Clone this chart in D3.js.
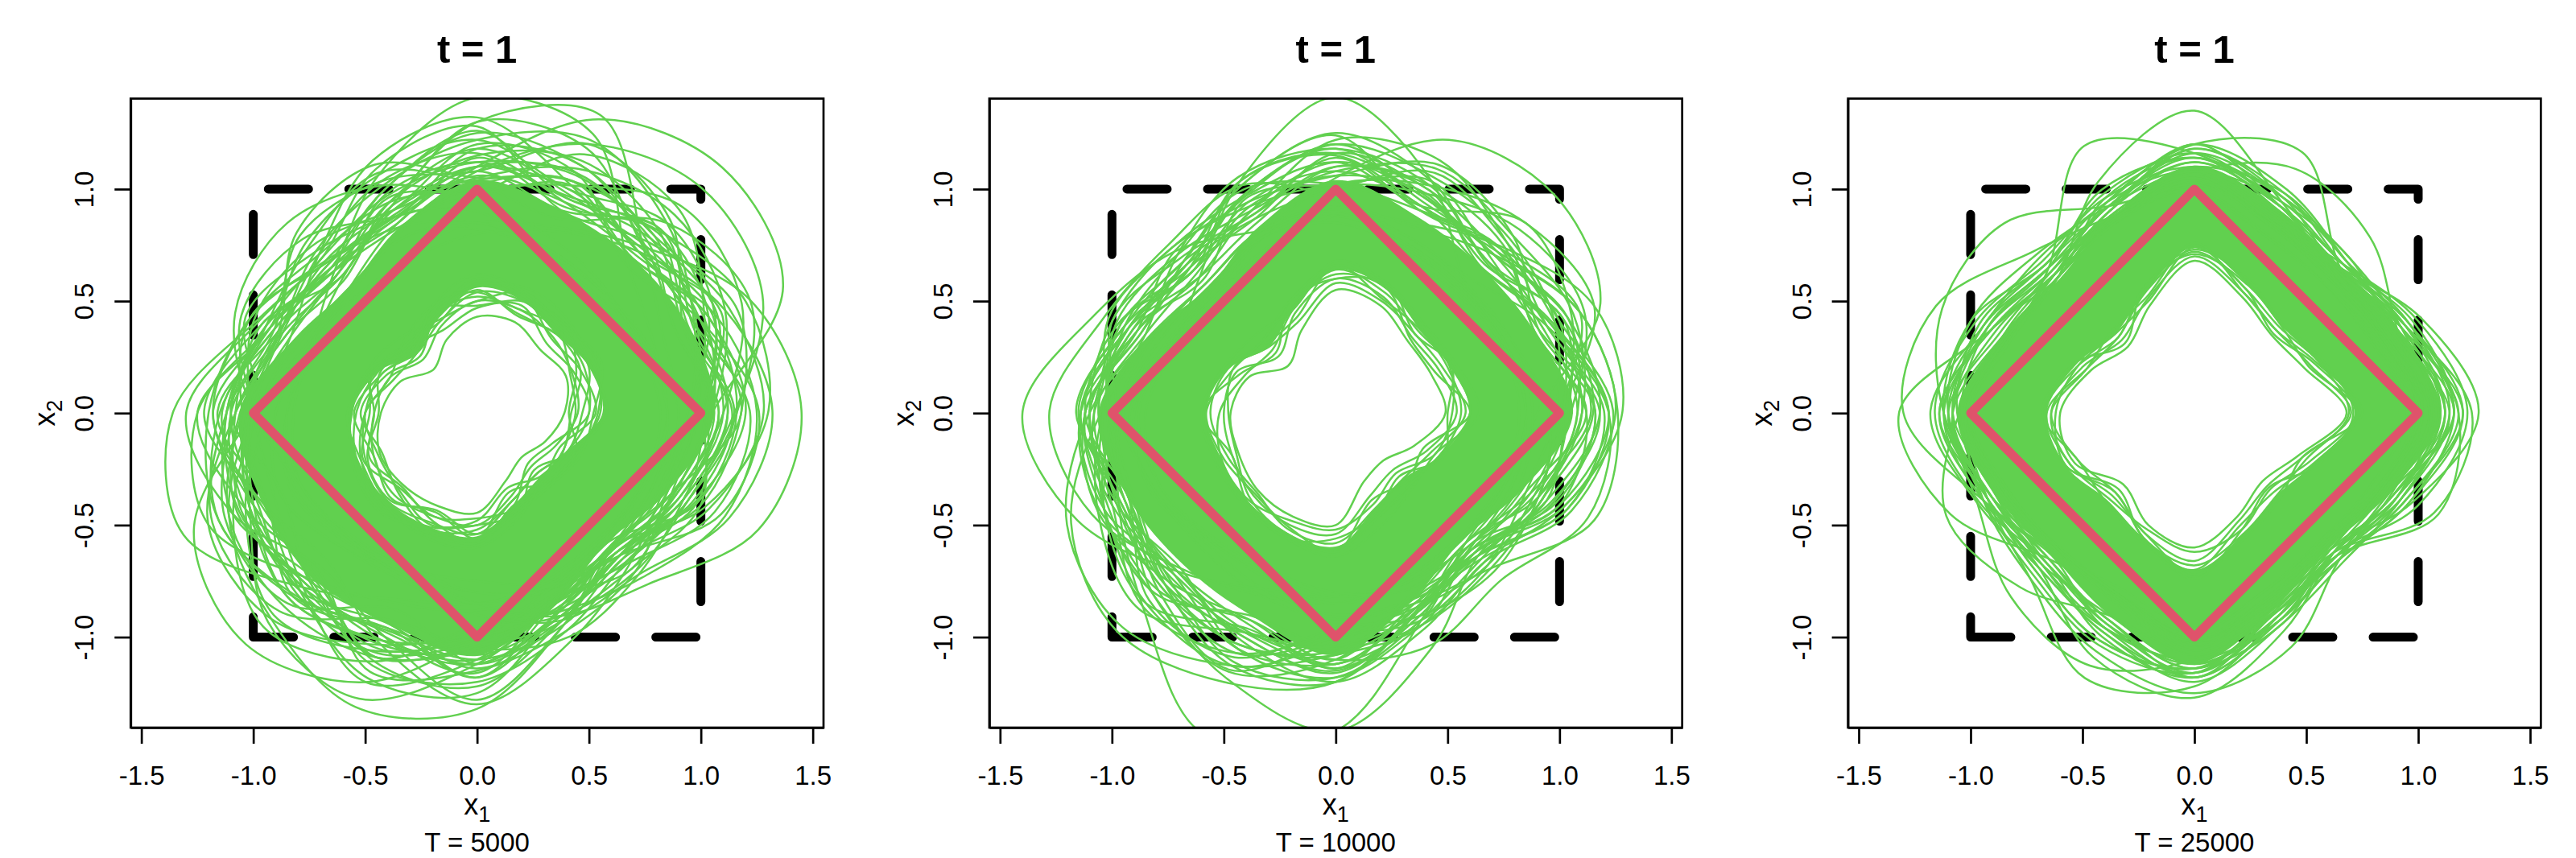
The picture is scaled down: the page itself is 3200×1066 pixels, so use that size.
<!DOCTYPE html>
<html>
<head>
<meta charset="utf-8">
<script src="https://cdn.jsdelivr.net/npm/d3@7"></script>
<style>
  html, body { margin: 0; padding: 0; background: #fff; }
  text { font-family: "Liberation Sans", Arial, sans-serif; fill: #000; }
</style>
</head>
<body>
<script>
/* Tick labels and reference shapes */

const xTicks = [-1.5, -1, -0.5, 0, 0.5, 1, 1.5];
const yTicks = [-1, -0.5, 0, 0.5, 1];
const squareX = [-1, 1, 1, -1, -1];
const squareY = [-1, -1, 1, 1, -1];
const diamondX = [1, 0, -1, 0, 1];
const diamondY = [0, 1, 0, -1, 0];
const horizons = ["T = 5000", "T = 10000", "T = 25000"];

const denseOuter5000 = [1.06, 1.02, .98, .98, 1.04, .9, .8, .88, 1.06, 1.04, 1.04, 1.02, 1.08, .92, .82, .92];
const denseInner5000 = [.56, .54, .5, .54, .56, .46, .38, .48, .56, .57, .56, .55, .55, .44, .4, .44];
const curves5000 = [
  [1.05,1.48,1.55,1.42,1.10,.92,.80,.78,.85,.90,.82,.78,.80,.85,.88,.95],
  [1.15,1.38,1.42,1.30,1.08,.88,.78,.8,.9,.95,.85,.76,.75,.82,.9,1.0],
  [1.45,1.32,1.05,.9,.85,.78,.72,.75,.85,.88,.8,.76,.85,.98,1.08,1.36],
  [1.32,1.2,1.02,.88,.8,.75,.75,.8,.9,.95,.85,.82,.9,1.0,1.02,1.22],
  [.85,.8,.78,.8,.85,.9,.95,1.07,1.36,1.42,1.1,.9,.85,.82,.8,.8],
  [.9,.82,.75,.78,.9,.95,.92,1.0,1.25,1.3,1.05,.92,.88,.85,.82,.85],
  [.82,.78,.8,.85,.95,1.1,1.2,1.17,1.0,.85,.8,.8,.85,.8,.78,.8],
  [.85,.85,.95,1.35,1.41,1.15,.9,.8,.82,.85,.78,.75,.8,.85,.85,.85],
  [.9,.9,1.05,1.44,1.3,1.0,.85,.8,.85,.85,.8,.8,.85,.85,.85,.88],
  [.85,.82,.78,.78,.82,.85,.8,.82,1.0,1.37,1.46,1.3,1.0,.85,.8,.82],
  [.85,.8,.78,.8,.85,.85,.8,.85,1.0,1.2,1.3,1.42,1.32,1.02,.85,.85],
  [.95,1.05,1.2,1.32,1.22,1.1,1.02,.95,1.02,1.1,1.32,1.38,1.12,.92,.86,.9],
  [1.12,1.08,1.1,1.15,1.12,1.05,.98,1.02,1.12,1.15,1.08,1.1,1.12,.98,.9,1.0],
  [1.2,1.12,1.0,1.02,1.16,1.12,1.0,.95,1.05,1.2,1.22,1.18,1.05,.92,.88,1.05],
  [1.05,1.2,1.25,1.18,1.05,.98,1.05,1.08,1.02,1.1,1.18,1.1,1.0,.95,.95,.95],
  [1.28,1.22,1.12,1.2,1.25,1.08,.92,.98,1.15,1.25,1.15,1.05,1.1,1.02,.92,1.12],
  [1.1,1.28,1.3,1.1,1.0,1.02,1.0,1.1,1.18,1.08,1.02,1.2,1.22,1.0,.9,.98],
  [1.22,1.05,1.05,1.28,1.3,1.0,.88,.92,1.08,1.3,1.3,1.12,.98,.9,.95,1.15],
  [1.0,1.15,1.2,1.08,1.22,1.15,1.08,1.0,1.25,1.12,1.0,1.25,1.15,1.05,1.0,.92],
  [1.3,1.3,1.15,1.05,1.1,.95,.95,1.1,1.05,1.02,1.12,1.28,1.25,.95,.85,1.1],
  [1.08,1.0,1.22,1.3,1.08,1.12,1.12,.98,1.12,1.28,1.25,1.0,1.05,1.08,1.02,1.0],
  [1.18,1.25,1.08,.98,1.28,1.18,.98,1.06,1.3,1.18,.98,1.08,1.28,1.02,.88,1.08],
  [.98,1.1,1.28,1.25,.98,.95,1.1,1.14,1.0,.98,1.1,1.3,1.1,.9,.98,.94],
  [1.25,1.15,.98,1.1,1.32,1.22,1.0,.9,.98,1.18,1.35,1.2,.95,.96,1.04,1.2],
  [1.15,1.02,1.15,1.22,1.15,1.02,.9,1.04,1.22,1.05,1.05,1.22,1.2,1.05,.94,1.02],
  [1.02,1.18,1.02,1.12,1.05,1.2,1.14,.96,1.08,1.22,1.2,.95,1.12,1.0,.98,1.08],
  [1.26,1.08,.94,1.16,1.2,.98,1.02,1.12,.96,1.12,1.28,1.15,1.0,.88,.9,1.18],
  [.94,1.12,1.16,1.04,1.26,1.08,.94,1.0,1.18,1.04,.94,1.12,1.3,1.1,.96,.9],
  [1.16,1.32,1.2,.94,1.02,1.16,1.06,1.02,1.1,.94,1.06,1.18,.96,.98,1.0,1.02],
  [1.06,.96,1.06,1.2,1.18,.94,.96,1.1,1.2,1.25,1.16,1.04,1.18,.92,.86,.96],
  [1.1,1.05,1.02,1.08,1.1,.98,.86,.94,1.1,1.12,1.1,1.06,1.12,.96,.86,.98],
  [1.05,1.1,1.06,1.02,1.06,.94,.9,.98,1.14,1.08,1.12,1.12,1.06,.92,.84,.94],
  [1.14,1.0,1.12,1.12,1.04,1.0,.84,.92,1.06,1.16,1.06,1.02,1.14,1.0,.88,1.04],
  [.98,1.06,1.14,1.0,1.14,.92,.92,1.0,1.1,1.06,1.14,1.16,1.02,.94,.9,.92],
  [1.16,1.12,.98,1.1,.98,1.04,.88,.9,1.02,1.1,1.08,1.08,1.16,.9,.82,1.06],
  [1.08,.96,1.08,1.16,1.1,.96,.94,.96,1.16,1.02,1.16,1.04,1.08,.98,.92,.96],
  [1.02,1.14,1.04,1.06,1.18,1.02,.86,1.04,1.08,1.14,1.1,1.14,1.0,.94,.86,1.0],
  [1.12,1.04,1.16,.98,1.08,.98,.96,.94,1.0,1.08,1.18,1.1,1.1,.92,.94,1.02],
  [1.18,1.08,1.02,1.12,1.02,.9,.9,1.02,1.12,1.18,1.04,1.18,1.04,1.0,.84,.94],
  [1.04,1.16,1.1,1.04,1.12,1.06,.88,.96,1.04,1.1,1.12,1.02,1.18,.96,.9,1.06],
  [.39,.43,.40,.44,.43,.355,.275,.37,.43,.47,.46,.45,.445,.33,.28,.33],
  [.45,.46,.48,.5,.5,.42,.34,.42,.46,.5,.52,.5,.5,.4,.34,.38],
  [.42,.5,.5,.47,.55,.46,.38,.4,.5,.48,.49,.54,.48,.36,.4,.42],
  [.5,.47,.44,.52,.47,.4,.42,.47,.44,.53,.55,.47,.54,.44,.32,.36],
  [.47,.54,.53,.5,.52,.48,.36,.44,.52,.46,.5,.56,.52,.42,.38,.44],
  [.53,.5,.47,.56,.58,.44,.44,.5,.48,.55,.48,.5,.47,.46,.42,.4],
  [.41,.48,.56,.54,.48,.5,.4,.46,.55,.5,.54,.48,.56,.38,.44,.48],
  [.55,.56,.5,.48,.54,.52,.46,.42,.5,.56,.58,.55,.5,.48,.36,.46],
  [.44,.45,.52,.58,.5,.45,.48,.52,.46,.52,.47,.52,.58,.44,.46,.42],
  [.5,.52,.52,.54,.54,.44,.38,.46,.5,.54,.56,.53,.54,.42,.38,.44],
  [.54,.58,.56,.56,.6,.48,.42,.48,.54,.58,.6,.58,.58,.46,.44,.48],
  [.58,.55,.58,.6,.57,.5,.44,.5,.58,.56,.58,.6,.6,.5,.42,.46],
  [.52,.6,.55,.58,.62,.52,.4,.52,.56,.6,.62,.56,.56,.48,.46,.5]
];

const denseOuter10000 = [1.06, .96, .92, .95, 1.04, .9, .8, .9, 1.06, 1, .96, .98, 1.08, .9, .8, .9];
const denseInner10000 = [.6, .55, .53, .6, .64, .5, .42, .52, .58, .55, .56, .58, .6, .46, .42, .5];
const curves10000 = [
  [.85,.82,.78,.8,.85,.88,1.02,1.16,1.4,1.25,1.0,.85,.82,.8,.78,.82],
  [.82,.8,.76,.78,.95,1.1,1.06,1.12,1.28,1.18,.98,.88,.85,.8,.78,.8],
  [.85,.82,.82,1.12,1.41,1.12,.86,.78,.85,.85,.8,.78,.82,.82,.8,.82],
  [.9,1.28,1.38,1.32,1.05,.85,.76,.78,.88,.85,.78,.76,.8,.85,.82,.85],
  [1.0,1.25,1.2,1.1,1.02,.88,.78,.8,.92,.88,.8,.8,.85,.82,.84,.9],
  [1.28,1.25,1.05,.92,.88,.8,.75,.8,.9,.9,.82,.85,.9,.9,.92,1.1],
  [1.26,1.18,1.0,.9,.92,.85,.78,.82,.95,.88,.85,.88,.92,.92,.98,1.25],
  [.85,.8,.78,.8,.85,.85,.8,.85,.95,1.05,1.22,1.55,1.42,1.0,.82,.82],
  [.85,.82,.8,.82,.88,.88,.82,.88,1.05,1.28,1.38,1.3,1.2,.95,.85,.85],
  [.88,.85,.82,.85,.92,.88,.82,.9,1.1,1.3,1.35,1.22,1.08,1.02,.85,.88],
  [.95,.85,.8,.82,.88,.85,.8,.85,.98,1.12,1.15,1.28,1.42,1.13,.9,.98],
  [1.22,1.02,.85,.85,.9,.88,.82,.88,.98,1.02,1.0,1.05,1.1,1.12,1.05,1.22],
  [1.18,1.12,1.0,1.05,1.2,1.05,.94,1.0,1.08,1.05,1.1,1.12,1.08,.96,.9,1.02],
  [1.22,1.05,.95,1.12,1.25,1.1,.96,.94,1.12,1.12,1.2,1.22,1.02,.92,.86,1.08],
  [1.1,1.15,1.12,1.18,1.08,.98,1.0,1.06,1.02,1.0,1.05,1.2,1.18,1.0,.92,.98],
  [1.25,1.18,1.02,1.0,1.15,1.12,.92,.96,1.14,1.14,1.02,1.08,1.15,.98,.88,1.1],
  [1.05,1.2,1.16,1.06,1.02,1.0,1.04,1.08,1.1,1.08,1.22,1.16,.98,.94,.96,.96],
  [1.2,1.02,1.08,1.22,1.22,.98,.9,1.02,1.15,1.02,1.15,1.25,1.1,.9,.9,1.12],
  [1.15,1.1,.96,1.1,1.18,1.14,1.0,.92,1.04,1.15,1.24,1.06,1.05,1.02,.98,1.0],
  [1.02,1.14,1.2,1.0,1.12,1.05,1.04,1.1,1.0,.98,1.08,1.22,1.2,.96,.86,.94],
  [1.24,1.08,1.08,1.16,1.0,.94,.94,1.0,1.14,1.12,1.0,1.1,1.2,1.04,.94,1.14],
  [1.0,1.18,1.04,.98,1.24,1.1,.96,1.04,1.06,1.0,1.18,1.18,.96,.98,1.0,.98],
  [1.16,.98,1.12,1.2,1.06,1.02,1.02,.96,1.12,1.15,1.06,1.0,1.14,.92,.88,1.05],
  [1.08,1.12,1.0,1.04,1.16,1.12,.9,1.05,1.12,1.0,1.12,1.24,1.0,1.0,.94,1.0],
  [1.22,1.04,.92,1.08,1.1,.96,.98,1.08,.98,1.12,1.2,1.04,1.12,.94,.9,1.12],
  [.98,1.06,1.1,1.14,1.2,1.06,.94,.98,1.1,1.06,.98,1.14,1.18,1.02,.96,.92],
  [1.12,.96,1.04,.98,1.02,1.08,1.0,1.02,1.04,1.12,1.14,.98,1.04,.96,.86,1.08],
  [1.08,1.0,.96,1.04,1.12,.98,.86,.96,1.1,1.04,1.04,1.06,1.12,.94,.84,.96],
  [1.14,1.04,.92,1.0,1.08,1.02,.9,1.0,1.06,1.0,1.08,1.12,1.06,.9,.82,.94],
  [1.02,1.08,1.02,1.08,1.16,.94,.92,.94,1.12,1.08,1.0,1.02,1.14,.98,.88,1.02],
  [1.18,.98,.98,1.12,1.02,1.04,.84,.98,1.04,1.06,1.1,1.16,1.0,.92,.86,1.04],
  [1.1,1.06,1.04,.98,1.14,.96,.96,1.02,1.16,.98,1.06,1.08,1.16,.96,.82,.98],
  [1.04,1.1,.94,1.06,1.06,1.0,.88,.92,1.08,1.1,1.12,1.0,1.1,.88,.9,1.0],
  [1.16,1.02,1.0,1.02,1.18,1.06,.92,1.04,1.02,1.02,1.02,1.14,1.12,1.0,.84,1.06],
  [1.12,.96,1.06,1.1,1.1,.92,.86,1.0,1.14,1.04,1.08,1.06,1.04,.94,.88,.92],
  [.49,.46,.455,.52,.55,.4,.3,.42,.47,.47,.49,.5,.5,.33,.3,.38],
  [.54,.5,.48,.56,.6,.48,.36,.48,.5,.5,.52,.54,.54,.4,.36,.44],
  [.58,.52,.5,.54,.58,.44,.42,.52,.56,.52,.5,.56,.58,.46,.42,.46],
  [.52,.55,.52,.58,.64,.5,.4,.44,.52,.55,.55,.52,.52,.44,.38,.48],
  [.6,.48,.47,.6,.62,.52,.46,.5,.48,.48,.54,.58,.6,.5,.46,.42],
  [.56,.54,.53,.55,.66,.46,.44,.54,.58,.54,.51,.55,.62,.42,.44,.5],
  [.5,.56,.5,.62,.6,.54,.38,.46,.6,.5,.56,.6,.56,.48,.4,.52],
  [.6,.56,.54,.6,.66,.54,.46,.5,.58,.56,.56,.58,.62,.5,.46,.5],
  [.64,.58,.56,.62,.68,.5,.5,.54,.6,.58,.58,.6,.64,.54,.48,.48]
];

const denseOuter25000 = [1.1, .98, .92, .98, 1.1, .95, .85, .92, 1.06, .96, .9, .98, 1.12, .94, .85, .94];
const denseInner25000 = [.72, .6, .55, .62, .74, .58, .5, .57, .66, .62, .55, .6, .7, .58, .52, .58];
const curves25000 = [
  [.95,.85,.82,.85,.98,.95,1.02,1.25,1.3,1.02,.88,.85,.95,.85,.8,.85],
  [.98,.86,.82,.86,1.0,1.0,1.2,1.22,1.12,.98,.88,.88,.98,.85,.82,.88],
  [1.0,.88,.82,.85,1.0,.92,.88,.98,1.32,1.18,.92,.88,.98,.85,.8,.88],
  [1.02,.9,.88,1.02,1.35,1.12,.86,.88,1.02,.92,.85,.88,1.0,.88,.82,.9],
  [1.05,.92,.88,1.0,1.16,1.29,.92,.88,1.0,.92,.85,.88,1.02,.88,.84,.92],
  [1.05,.92,.92,1.26,1.2,1.02,.88,.9,1.02,.9,.86,.88,1.0,.9,.84,.92],
  [1.02,.98,1.11,1.18,1.08,.96,.86,.9,1.0,.92,.86,.88,1.02,.9,.84,.9],
  [1.27,1.1,.92,.92,1.02,.94,.86,.88,1.0,.9,.86,.9,1.02,.92,.86,1.05],
  [1.22,1.08,.94,.92,1.04,.92,.86,.9,1.02,.92,.86,.88,1.04,.92,.88,1.08],
  [1.24,1.02,.9,.94,1.06,.94,.86,.9,1.02,.94,.88,.9,1.06,.94,.88,1.16],
  [1.18,1.04,.92,.96,1.08,.96,.88,.92,1.0,.9,.86,.92,1.08,.96,.9,1.18],
  [1.0,.9,.85,.92,1.02,.95,.86,.92,1.08,1.05,1.16,1.22,1.1,.95,.85,.9],
  [1.0,.9,.85,.9,1.02,.94,.86,.9,1.02,1.0,1.04,1.28,1.22,.98,.86,.9],
  [1.02,.9,.86,.92,1.05,.95,.88,.9,1.04,1.0,.98,1.18,1.27,1.05,.88,.92],
  [1.02,.92,.86,.9,1.05,.95,.86,.9,1.05,1.2,1.1,.98,1.08,.96,.86,.9],
  [1.05,.94,.88,.92,1.06,.96,.86,.9,1.02,1.02,1.04,1.15,1.25,1.13,.92,.95],
  [1.1,.96,.9,.98,1.14,1.0,.9,1.0,1.1,.98,.94,1.0,1.14,.96,.9,.98],
  [1.16,.98,.92,.96,1.08,1.02,.94,1.04,1.06,.96,.92,1.02,1.16,.98,.88,.96],
  [1.12,1.02,.94,1.0,1.12,1.0,.92,1.02,1.12,1.0,.98,1.04,1.1,.94,.9,1.0],
  [1.18,1.0,.9,1.04,1.18,.98,.88,.98,1.14,1.02,.96,.98,1.12,1.0,.92,1.02],
  [1.14,1.04,.96,1.06,1.1,1.04,.96,1.06,1.16,1.04,.94,1.08,1.18,1.0,.88,.98],
  [1.2,1.0,.92,1.0,1.16,1.06,.94,1.08,1.12,1.0,1.0,1.1,1.14,.96,.92,1.04],
  [1.12,.98,.96,1.08,1.2,1.02,.98,1.02,1.18,1.05,.98,1.06,1.2,1.02,.94,1.0],
  [1.06,1.0,.98,1.04,1.14,1.08,.92,1.0,1.08,1.02,1.02,1.12,1.16,.98,.9,.98],
  [1.16,1.06,.94,1.02,1.08,1.0,1.0,1.08,1.1,.98,.96,1.04,1.18,1.0,.92,1.04],
  [1.12,1.0,.94,1.0,1.12,.98,.88,.96,1.08,.98,.92,1.0,1.14,.96,.88,.96],
  [1.08,.98,.96,1.04,1.16,1.0,.9,.94,1.1,1.0,.94,1.02,1.12,.98,.86,.98],
  [1.16,1.02,.92,.98,1.1,.96,.92,1.0,1.04,.96,.96,1.06,1.16,.94,.9,.94],
  [1.14,.96,.98,1.02,1.14,1.04,.86,.98,1.12,1.02,.9,1.04,1.1,1.0,.88,1.0],
  [1.2,1.04,.94,1.06,1.18,1.0,.94,1.02,1.08,.94,.94,1.0,1.18,.96,.92,1.02],
  [1.1,1.0,.9,1.0,1.2,.98,.9,.98,1.14,1.0,1.0,1.1,1.14,1.02,.88,.96],
  [.68,.53,.49,.56,.68,.52,.42,.5,.6,.58,.45,.54,.6,.5,.43,.5],
  [.7,.56,.52,.58,.7,.55,.46,.54,.64,.56,.5,.58,.66,.52,.46,.52],
  [.72,.58,.5,.6,.72,.58,.48,.52,.66,.6,.54,.56,.62,.56,.48,.56],
  [.69,.6,.54,.6,.74,.54,.5,.56,.62,.62,.48,.6,.68,.58,.52,.54],
  [.73,.55,.55,.62,.71,.6,.44,.58,.68,.56,.56,.62,.7,.54,.5,.58],
  [.75,.59,.52,.58,.76,.56,.52,.52,.64,.6,.52,.58,.72,.6,.54,.52],
  [.71,.62,.56,.64,.73,.6,.48,.56,.67,.62,.5,.6,.74,.56,.47,.6]
];

const panelCurves = [curves5000, curves10000, curves25000];
const panelOuter = [denseOuter5000, denseOuter10000, denseOuter25000];
const panelInner = [denseInner5000, denseInner10000, denseInner25000];

/* Chart size */

const w = 3200,
      h = 1066,
      panelStep = 1066.67,
      left = 162.3,
      right = 1023,
      top_ = 122.5,
      bottom = 904;

const green = "#61D04F",
      pink = "#DF536B";

/* Scales */

const x = d3.scaleLinear().domain([-1.548, 1.548]).range([left, right]);
const y = d3.scaleLinear().domain([-1.404, 1.404]).range([bottom, top_]);

/* Radii to points */

const toPoints = (radii) => radii.map((r, i) => {
  const a = i * 2 * Math.PI / radii.length;
  return [r * Math.cos(a), r * Math.sin(a)];
});

const closedCurve = d3.line().x(d => x(d[0])).y(d => y(d[1])).curve(d3.curveCatmullRomClosed.alpha(0.5));
const straight = d3.line().x(d => x(d[0])).y(d => y(d[1]));

/* SVG */

const svg = d3.select("body")
            .append("svg")
            .attr("width", w)
            .attr("height", h)
            .style("display", "block");

svg.append("defs").append("clipPath")
   .attr("id", "plotArea")
   .append("rect")
   .attr("x", left)
   .attr("y", top_)
   .attr("width", right - left)
   .attr("height", bottom - top_);

horizons.forEach((label, i) => {

  const panel = svg.append("g").attr("transform", "translate(" + (i * panelStep) + ",0)");
  const plot = panel.append("g").attr("clip-path", "url(#plotArea)");

  /* Dashed square */

  plot.append("path")
      .attr("d", straight(squareX.map((v, k) => [v, squareY[k]])))
      .attr("fill", "none")
      .attr("stroke", "#000")
      .attr("stroke-width", 11)
      .attr("stroke-linecap", "round")
      .attr("stroke-linejoin", "round")
      .attr("stroke-dasharray", "50 50");

  /* Dense green band */

  plot.append("path")
      .attr("d", closedCurve(toPoints(panelOuter[i])) + closedCurve(toPoints(panelInner[i])))
      .attr("fill", green)
      .attr("fill-rule", "evenodd");

  /* Green curves */

  plot.selectAll("path.curve")
      .data(panelCurves[i])
      .enter()
      .append("path")
      .attr("class", "curve")
      .attr("d", d => closedCurve(toPoints(d)))
      .attr("fill", "none")
      .attr("stroke", green)
      .attr("stroke-width", 2.5);

  /* Diamond */

  plot.append("path")
      .attr("d", straight(diamondX.map((v, k) => [v, diamondY[k]])))
      .attr("fill", "none")
      .attr("stroke", pink)
      .attr("stroke-width", 11)
      .attr("stroke-linejoin", "round")
      .attr("stroke-linecap", "round");

  /* Axes */

  const xAxis = panel.append("g")
      .attr("transform", "translate(0," + bottom + ")")
      .call(d3.axisBottom(x).tickValues(xTicks).tickFormat(d => d.toFixed(1)).tickSize(20).tickSizeOuter(0).tickPadding(27.6));

  const yAxis = panel.append("g")
      .attr("transform", "translate(" + left + ",0)")
      .call(d3.axisLeft(y).tickValues(yTicks).tickFormat(d => d.toFixed(1)).tickSize(20).tickSizeOuter(0));

  yAxis.selectAll("text")
      .attr("transform", "rotate(-90)")
      .attr("x", 0)
      .attr("y", -46)
      .attr("dy", 0)
      .attr("text-anchor", "middle");

  [xAxis, yAxis].forEach(a => {
    a.attr("font-family", null).attr("font-size", null);
    a.selectAll("text").style("font-size", "33px");
    a.selectAll("line, path").attr("stroke", "#000").attr("stroke-width", 2.7);
  });

  panel.append("rect")
       .attr("x", left)
       .attr("y", top_)
       .attr("width", right - left)
       .attr("height", bottom - top_)
       .attr("fill", "none")
       .attr("stroke", "#000")
       .attr("stroke-width", 2.7);

  /* Titles and labels */

  panel.append("text")
       .attr("x", x(0))
       .attr("y", 78)
       .attr("text-anchor", "middle")
       .style("font-size", "49px")
       .style("font-weight", "bold")
       .text("t = 1");

  const xLabel = panel.append("text")
       .attr("x", x(0))
       .attr("y", 1012)
       .attr("text-anchor", "middle")
       .style("font-size", "36px");
  xLabel.append("tspan").text("x");
  xLabel.append("tspan").attr("dy", 9).style("font-size", "27px").text("1");

  const yLabel = panel.append("text")
       .attr("transform", "translate(68," + y(0) + ") rotate(-90)")
       .attr("text-anchor", "middle")
       .style("font-size", "36px");
  yLabel.append("tspan").text("x");
  yLabel.append("tspan").attr("dy", 9).style("font-size", "27px").text("2");

  panel.append("text")
       .attr("x", x(0))
       .attr("y", 1058)
       .attr("text-anchor", "middle")
       .style("font-size", "33px")
       .text(label);
});
</script>
</body>
</html>
